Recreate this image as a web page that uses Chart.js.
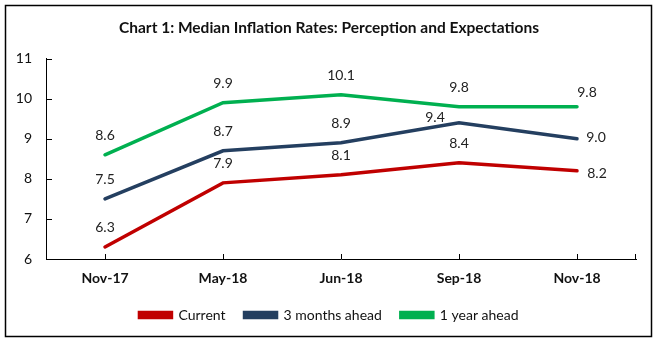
<!DOCTYPE html>
<html>
<head>
<meta charset="utf-8">
<script src="https://cdn.jsdelivr.net/npm/chart.js@4"></script>
<style>
  html, body { margin: 0; padding: 0; background: #fff; }
  #wrap { width: 658px; height: 342px; position: relative; }
</style>
</head>
<body>
<div id="wrap"><canvas id="chart" width="658" height="342"></canvas></div>
<script>
// survey rounds
const months = ['Nov-17', 'May-18', 'Jun-18', 'Sep-18', 'Nov-18'];
const current = [6.3, 7.9, 8.1, 8.4, 8.2];
const threeMonths = [7.5, 8.7, 8.9, 9.4, 9.0];
const oneYear = [8.6, 9.9, 10.1, 9.8, 9.8];
const yTicks = [6, 7, 8, 9, 10, 11];

// label nudges per point (dx, dy) in px
const labelOffsets = [
    [[0, -19], [0, -19], [0, -19], [0, -19], [20, 3]],
    [[0, -19], [0, -19], [0, -19], [-24, -5], [19, -1]],
    [[0, -19], [0, -19], [0, -19], [0, -19], [10, -14]],
];

const FONT = 'Lato, "Open Sans", sans-serif';

const frame = {
    id: 'frame',
    beforeDraw(chart) {
        const ctx = chart.ctx;
        ctx.save();
        ctx.fillStyle = '#fff';
        ctx.fillRect(0, 0, chart.width, chart.height);
        ctx.strokeStyle = '#000';
        ctx.lineWidth = 1.5;
        ctx.strokeRect(5.5, 5.5, 646, 331);
        ctx.restore();
    },
    afterDraw(chart) {
        const ctx = chart.ctx;
        const x = chart.scales.x, y = chart.scales.y;
        const area = chart.chartArea;
        ctx.save();
        ctx.strokeStyle = '#000';
        ctx.lineWidth = 1;
        ctx.beginPath();
        yTicks.forEach(v => {
            const py = Math.round(y.getPixelForValue(v)) + 0.5;
            ctx.moveTo(area.left, py);
            ctx.lineTo(area.left + 6, py);
        });
        months.forEach((m, i) => {
            const px = Math.round(x.getPixelForValue(i)) + 0.5;
            ctx.moveTo(px, area.bottom);
            ctx.lineTo(px, area.bottom - 5);
        });
        ctx.moveTo(Math.round(area.right) - 0.5, area.bottom);
        ctx.lineTo(Math.round(area.right) - 0.5, area.bottom - 5);
        ctx.stroke();

        ctx.fillStyle = '#222';
        ctx.font = '14px ' + FONT;
        ctx.textAlign = 'center';
        ctx.textBaseline = 'middle';
        chart.data.datasets.forEach((ds, di) => {
            const meta = chart.getDatasetMeta(di);
            meta.data.forEach((pt, i) => {
                const off = labelOffsets[di][i];
                ctx.fillText(ds.data[i].toFixed(1), pt.x + off[0], pt.y + off[1]);
            });
        });
        ctx.restore();
    }
};

new Chart(document.getElementById('chart'), {
    type: 'line',
    data: {
        labels: months,
        datasets: [
            { label: 'Current', data: current, borderColor: '#C00000', backgroundColor: '#C00000' },
            { label: '3 months ahead', data: threeMonths, borderColor: '#243F60', backgroundColor: '#243F60' },
            { label: '1 year ahead', data: oneYear, borderColor: '#00B050', backgroundColor: '#00B050' },
        ],
    },
    options: {
        responsive: false,
        animation: false,
        devicePixelRatio: 1,
        elements: {
            line: { borderWidth: 3.5, tension: 0, borderCapStyle: 'round' },
            point: { radius: 0, hoverRadius: 0 },
        },
        layout: { padding: { left: 0, right: 0, top: 0, bottom: 10 } },
        plugins: {
            title: {
                display: true,
                text: 'Chart 1: Median Inflation Rates: Perception and Expectations',
                color: '#111',
                font: { family: FONT, size: 15.5, weight: 'bold' },
                padding: { top: 19, bottom: 21 },
            },
            legend: {
                position: 'bottom',
                labels: {
                    color: '#111',
                    font: { family: FONT, size: 14 },
                    boxWidth: 32,
                    boxHeight: 5,
                    padding: 19,
                },
            },
            tooltip: { enabled: false },
        },
        scales: {
            x: {
                offset: true,
                grid: { display: true, drawOnChartArea: false, drawTicks: false, offset: false },
                border: { color: '#000', width: 1 },
                ticks: { color: '#111', font: { family: FONT, size: 14, weight: 'bold' }, padding: 11 },
                afterFit(s) { s.height = 30; },
            },
            y: {
                min: 6,
                max: 11,
                grid: { display: true, drawOnChartArea: false, drawTicks: false },
                border: { color: '#000', width: 1 },
                ticks: { stepSize: 1, color: '#111', font: { family: FONT, size: 14 }, padding: 14 },
                afterFit(s) { s.width = 46; },
            },
            // blank right margin so title and legend centre on the full width
            spacer: {
                type: 'linear',
                position: 'right',
                grid: { display: false },
                border: { display: false },
                ticks: { display: false },
                afterFit(s) { s.width = 22; },
            },
        },
    },
    plugins: [frame],
});
</script>
</body>
</html>
